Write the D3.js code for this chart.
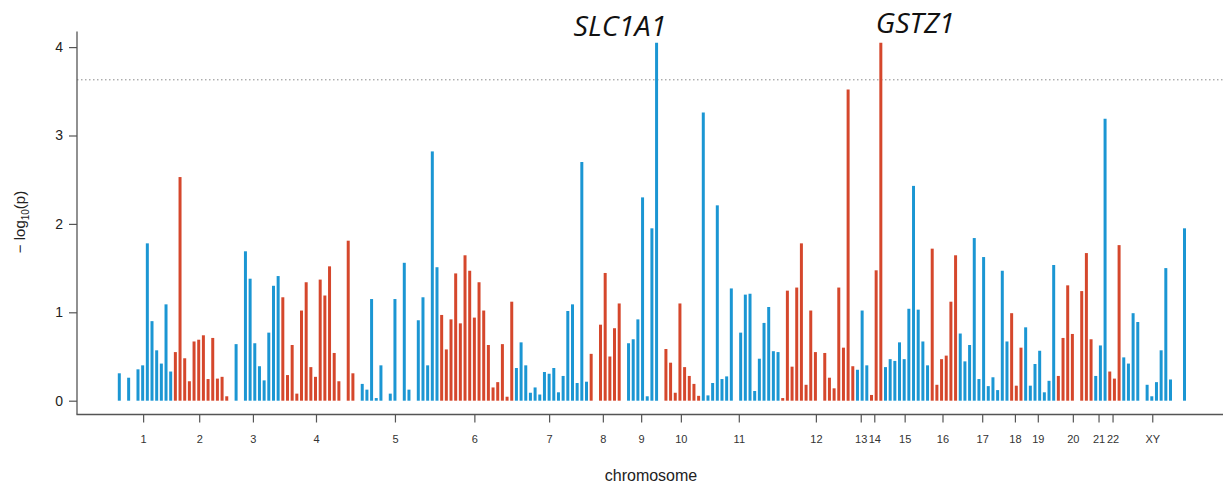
<!DOCTYPE html>
<html>
<head>
<meta charset="utf-8">
<script src="https://cdn.jsdelivr.net/npm/d3@7/dist/d3.min.js"></script>
<style>
  html, body { margin: 0; padding: 0; background: #fff; }
  svg { display: block; }
</style>
</head>
<body>
<svg id="chart" width="1223" height="484"></svg>
<script>
// ---------------- DATA ----------------
const chromosomes = ["1","2","3","4","5","6","7","8","9","10","11","12","13","14","15","16","17","18","19","20","21","22","XY"];
const chromosomeTicks = [5.1,17.1,28.6,42.1,59.0,76.0,92.0,103.5,111.7,120.2,132.6,149.1,158.7,161.6,168.1,176.2,184.7,191.7,196.6,204.1,209.6,212.6,221.1];

// marker bin (ordered genomic bin index) per chromosome
const markerBins = [
  [0,2,4,5,6,7,8,9,10,11],
  [12,13,14,15,16,17,18,19,20,21,22,23],
  [25,27,28,29,30,31,32,33,34],
  [35,36,37,38,39,40,41,42,43,44,45,46,47,49,50],
  [52,53,54,55,56,58,59,61,62,64,65,66,67,68],
  [69,70,71,72,73,74,75,76,77,78,79,80,81,82,83,84],
  [85,86,87,88,89,90,91,92,93,94,95,96,97,98,99,100],
  [101,103,104,105,106,107],
  [109,110,111,112,113,114,115],
  [117,118,119,120,121,122,123,124],
  [125,126,127,128,129,130,131,133,134,135,136,137,138,139,140,141],
  [142,143,144,145,146,147,148,149,151,152,153,154,155,156,157],
  [158,159,160],
  [161,162,163],
  [164,165,166,167,168,169,170,171,172,173],
  [174,175,176,177,178,179],
  [180,181,182,183,184,185,186,187,188,189,190],
  [191,192,193],
  [194,195,196,197,198,199,200],
  [201,202,203,204,206,207,208],
  [209,210,211],
  [212,213,214],
  [215,216,217,218,220,221,222,223,224,225,228]
];

// -log10(p) per marker
const markerLogP = [
  [0.31,0.26,0.355,0.40,1.78,0.90,0.57,0.42,1.09,0.33],
  [0.55,2.53,0.48,0.22,0.67,0.69,0.74,0.245,0.71,0.25,0.27,0.05],
  [0.64,1.69,1.38,0.65,0.39,0.23,0.77,1.30,1.41],
  [1.17,0.29,0.63,0.08,1.02,1.34,0.38,0.27,1.37,1.19,1.52,0.54,0.22,1.81,0.31],
  [0.19,0.125,1.15,0.03,0.40,0.08,1.15,1.56,0.125,0.91,1.17,0.40,2.82,1.51],
  [0.97,0.58,0.92,1.44,0.875,1.645,1.47,0.94,1.34,1.02,0.63,0.15,0.21,0.64,0.045,1.12],
  [0.37,0.66,0.40,0.09,0.15,0.07,0.325,0.305,0.37,0.095,0.28,1.015,1.09,0.20,2.70,0.215],
  [0.53,0.86,1.445,0.50,0.82,1.10],
  [0.65,0.695,0.92,2.30,0.05,1.95,4.05],
  [0.585,0.43,0.09,1.10,0.38,0.28,0.19,0.055],
  [3.26,0.06,0.20,2.21,0.245,0.275,1.27,0.77,1.20,1.21,0.11,0.475,0.88,1.06,0.56,0.55],
  [0.03,1.245,0.385,1.28,1.78,0.18,1.02,0.55,0.54,0.26,0.14,1.28,0.60,3.52,0.39],
  [0.35,1.02,0.40],
  [0.065,1.475,4.05],
  [0.38,0.47,0.45,0.66,0.47,1.04,2.43,1.03,0.67,0.40],
  [1.72,0.18,0.47,0.51,1.12,1.645],
  [0.76,0.445,0.63,1.84,0.245,1.625,0.165,0.265,0.12,1.47,0.67],
  [0.99,0.17,0.60],
  [0.83,0.17,0.415,0.565,0.095,0.225,1.535],
  [0.28,0.71,1.305,0.755,1.24,1.67,0.695],
  [0.28,0.625,3.19],
  [0.33,0.25,1.76],
  [0.49,0.42,0.99,0.89,0.18,0.05,0.21,0.57,1.50,0.24,1.95]
];

const yTicks = [0,1,2,3,4];
const threshold = 3.63;
const geneLabels = ["SLC1A1","GSTZ1"];
const geneBins = [115,163];
const chromColors = ["#1b96d3","#d5472c"];

// ---------------- DRAW ----------------
const svg = d3.select("#chart");
const x = d3.scaleLinear().domain([0,228]).range([119.3,1184.5]);
const y = d3.scaleLinear().domain([0,4]).range([400.7,47.1]);

const bars = [];
markerBins.forEach((bins,ci)=>{
  bins.forEach((b,i)=>bars.push({chr:ci,bin:b,v:markerLogP[ci][i]}));
});

// threshold dotted line
svg.append("line")
  .attr("x1",77).attr("x2",1223)
  .attr("y1",y(threshold)).attr("y2",y(threshold))
  .attr("stroke","#8a8a8a").attr("stroke-width",1)
  .attr("stroke-dasharray","1.5,2.5");

// bars
svg.append("g").selectAll("line").data(bars).join("line")
  .attr("x1",d=>x(d.bin)).attr("x2",d=>x(d.bin))
  .attr("y1",y(0)).attr("y2",d=>y(d.v))
  .attr("stroke",d=>chromColors[d.chr%2])
  .attr("stroke-width",3);

// y axis
const yAxis = d3.axisLeft(y).tickValues(yTicks).tickSize(8).tickPadding(6).tickFormat(d3.format("d"));
const gy = svg.append("g").attr("transform","translate(77,0)").call(yAxis);
gy.select(".domain").remove();
gy.append("line").attr("x1",0).attr("x2",0).attr("y1",31.5).attr("y2",414.5)
  .attr("stroke","#555").attr("stroke-width",1.3);
gy.selectAll(".tick line").attr("stroke","#555").attr("stroke-width",1.2);
gy.selectAll(".tick text").attr("fill","#222").style("font-family","Liberation Sans, Arial, sans-serif").style("font-size","14px");

// x axis
const xAxis = d3.axisBottom(x).tickValues(chromosomeTicks).tickSize(8).tickPadding(13)
  .tickFormat((d,i)=>chromosomes[i]);
const gx = svg.append("g").attr("transform","translate(0,414.5)").call(xAxis);
gx.select(".domain").remove();
gx.append("line").attr("x1",76.5).attr("x2",1223).attr("y1",0).attr("y2",0)
  .attr("stroke","#555").attr("stroke-width",1.5);
gx.selectAll(".tick line").attr("stroke","#555").attr("stroke-width",1.2);
gx.selectAll(".tick text").attr("fill","#333").style("font-family","Liberation Sans, Arial, sans-serif").style("font-size","11px");

// axis titles
svg.append("text").attr("x",651).attr("y",481).attr("text-anchor","middle")
  .style("font-family","Liberation Sans, Arial, sans-serif").style("font-size","16px").attr("fill","#222")
  .text("chromosome");

const yl = svg.append("text").attr("transform","translate(25,222) rotate(-90)").attr("text-anchor","middle")
  .style("font-family","Liberation Sans, Arial, sans-serif").style("font-size","15px").attr("fill","#222");
yl.append("tspan").text("\u2212 log");
yl.append("tspan").attr("dy",4).style("font-size","10px").text("10");
yl.append("tspan").attr("dy",-4).text("(p)");

// gene labels
svg.append("text").attr("x",x(geneBins[0])+10).attr("y",36).attr("text-anchor","end")
  .style("font-family","Open Sans, sans-serif").style("font-style","italic").style("font-size","27px").attr("fill","#111")
  .attr("textLength",93).attr("lengthAdjust","spacingAndGlyphs")
  .text(geneLabels[0]);
svg.append("text").attr("x",x(geneBins[1])-5).attr("y",33).attr("text-anchor","start")
  .style("font-family","Open Sans, sans-serif").style("font-style","italic").style("font-size","27px").attr("fill","#111")
  .attr("textLength",79).attr("lengthAdjust","spacingAndGlyphs")
  .text(geneLabels[1]);
</script>
</body>
</html>
